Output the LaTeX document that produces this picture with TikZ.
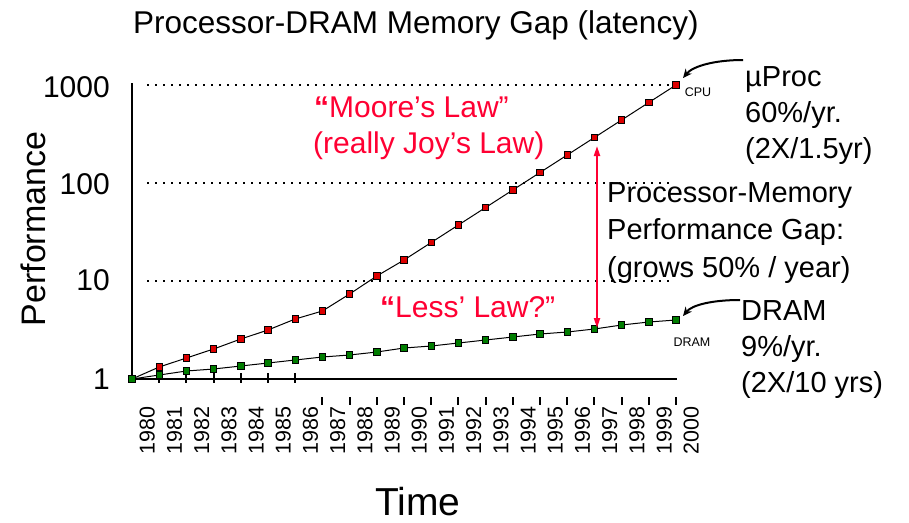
\documentclass[tikz,border=0pt]{standalone}
\usepackage{fontspec}
\setmainfont{Liberation Sans}
\usetikzlibrary{arrows.meta}
\definecolor{lawred}{RGB}{255,0,51}
\definecolor{cpufill}{RGB}{220,0,0}
\definecolor{dramfill}{RGB}{0,125,0}
\newcommand\myfs[1]{\fontsize{#1}{#1}\selectfont}
\begin{document}
\begin{tikzpicture}[x=1pt,y=-1pt,
  lbl/.style={inner sep=0pt, anchor=base west},
  biglbl/.style={lbl, font=\myfs{29}},
  redlbl/.style={lbl, font=\myfs{30}, text=lawred},
  ylbl/.style={inner sep=0pt, anchor=east, font=\myfs{30}},
  yearlbl/.style={inner sep=0pt, rotate=90, anchor=north east, font=\myfs{21.5}},
  smalllbl/.style={inner sep=0pt, font=\myfs{12.5}},
  axisline/.style={line width=2.5pt},
  tickline/.style={line width=2pt},
  gridline/.style={line width=2pt, dash pattern=on 2pt off 6pt},
  dataline/.style={line width=1pt},
  cpumark/.style={draw=black, fill=cpufill, minimum size=6.5pt, inner sep=0pt, line width=0.8pt},
  drammark/.style={draw=black, fill=dramfill, minimum size=6.5pt, inner sep=0pt, line width=0.8pt},
  curvearrow/.style={line width=2pt, -{Stealth[length=9pt,width=8pt]}},
  gaparrow/.style={draw=lawred, line width=2pt, {Triangle[length=10pt,width=6pt]}-{Triangle[length=10pt,width=6pt]}}
]
\fill[white] (0,0) rectangle (909,522);
\useasboundingbox (0,0) rectangle (909,522);

% title
\node[lbl, font=\myfs{31.5}] (title) at (133,33) {Processor-DRAM Memory Gap (latency)};

% grid lines
\coordinate (g1000a) at (147,85);  \coordinate (g1000b) at (674,85);
\coordinate (g100a) at (147,183);  \coordinate (g100b) at (674,183);
\coordinate (g10a) at (147,281);   \coordinate (g10b) at (674,281);
\draw[gridline] (g1000a) -- (g1000b);
\draw[gridline] (g100a) -- (g100b);
\draw[gridline] (g10a) -- (g10b);

% axes
\coordinate (ytop) at (132,83);
\coordinate (origin) at (132,379);
\coordinate (xend) at (677,379);
\draw[axisline] (ytop) -- (origin) -- (xend);

% ticks
\foreach \i in {1,...,6} \draw[tickline] ({132+27.2*\i},373) -- ++(0,10);
\foreach \i in {7,...,20} \draw[tickline] ({132+27.2*\i},397) -- ++(0,8);

% year labels
\foreach \i in {0,...,20} {
  \pgfmathtruncatemacro\yr{1980+\i}
  \node[yearlbl] (yr\i) at ({132+27.2*\i+7.5},406) {\yr};
}

% y labels
\node[ylbl] (y1000) at (110,87) {1000};
\node[ylbl] (y100) at (110,184) {100};
\node[ylbl] (y10) at (110,280) {10};
\node[ylbl] (y1) at (110,379) {1};

% axis titles
\node[inner sep=0pt, rotate=90, anchor=base, font=\myfs{34}] (perf) at (45,229) {Performance};
\node[inner sep=0pt, anchor=base, font=\myfs{39}] (time) at (418,515) {Time};

% data
\foreach \yv [count=\i from 0] in {379,367,358,349,339,330,319,311,294,276,260,242.5,225,207.5,190,172.5,155,137.5,120,102.5,85}
  \coordinate (c\i) at ({132+27.2*\i},\yv);
\foreach \yv [count=\i from 0] in {379,375,371,369,366,363,360,357,355,352,348,346,343,340,337,334,332,329,325,322,320}
  \coordinate (d\i) at ({132+27.2*\i},\yv);
\draw[dataline] (c0) \foreach \i in {1,...,20} { -- (c\i) };
\draw[dataline] (d0) \foreach \i in {1,...,20} { -- (d\i) };
\foreach \i in {0,...,20} \node[cpumark] (cm\i) at (c\i) {};
\foreach \i in {0,...,20} \node[drammark] (dm\i) at (d\i) {};

% small labels
\node[smalllbl] (cpulbl) at (698,92) {CPU};
\node[smalllbl] (dramlbl) at (692,342) {DRAM};

% gap arrow
\coordinate (gaptop) at (597,146);
\coordinate (gapbot) at (597,328);
\draw[gaparrow] (gapbot) -- (gaptop);

% red texts
\node[redlbl] (moore) at (314,117) {{\bfseries “}Moore’s Law”};
\node[redlbl] (joy) at (313,153) {(really Joy’s Law)};
\node[redlbl] (less) at (380,317) {{\bfseries “}Less’ Law?”};

% right labels
\node[biglbl] (up1) at (745,86) {µProc};
\node[biglbl] (up2) at (745,122) {60\%/yr.};
\node[biglbl] (up3) at (745,158) {(2X/1.5yr)};
\node[biglbl] (gap1) at (607,202) {Processor-Memory};
\node[biglbl] (gap2) at (607,239.5) {Performance Gap:};
\node[biglbl] (gap3) at (607,277) {(grows 50\% / year)};
\node[biglbl] (dr1) at (741,320) {DRAM};
\node[biglbl] (dr2) at (741,356) {9\%/yr.};
\node[biglbl] (dr3) at (741,392) {(2X/10 yrs)};

% curved arrows
\coordinate (cpuarrstart) at (743,60);
\coordinate (cpuarrtip) at (683,78);
\coordinate (dramarrstart) at (740,300);
\coordinate (dramarrtip) at (683,316);
\draw[curvearrow] (cpuarrstart) .. controls (715,60) and (693,66) .. (cpuarrtip);
\draw[curvearrow] (dramarrstart) .. controls (712,300) and (692,305) .. (dramarrtip);
\end{tikzpicture}
\end{document}
